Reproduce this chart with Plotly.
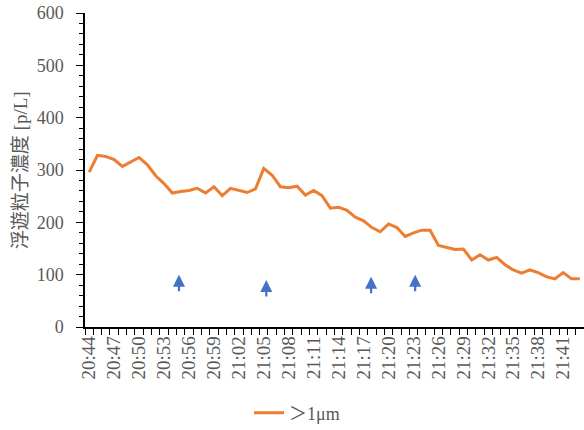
import plotly.graph_objects as go

times = []
h, m = 20, 44
for _ in range(60):
    times.append(f"{h}:{m:02d}")
    m += 1
    if m == 60:
        h, m = h + 1, 0

values = [296, 328, 326, 320, 307, 316, 324, 310, 289, 274,
          256, 259, 261, 265, 256, 268, 251, 265, 261, 257,
          264, 303, 290, 268, 266, 269, 252, 261, 251, 227,
          229, 223, 210, 203, 190, 182, 197, 190, 173, 180,
          185, 185, 156, 152, 148, 149, 128, 138, 128, 133,
          119, 109, 103, 109, 104, 96, 92, 104, 92, 92]

arrow_x = [10.8, 21.3, 33.9, 39.2]
arrow_y = [100, 90, 96, 100]

label_idx = list(range(0, 60, 3))
label_txt = [times[i] for i in label_idx]

gray = "#595959"
serif = "Liberation Serif"
font_cjk = "Liberation Serif, Noto Sans CJK JP"

fig = go.Figure()
fig.add_trace(go.Scatter(
    x=list(range(len(values))), y=values, mode="lines",
    line=dict(color="#ED7D31", width=3),
    name="＞1μm",
))

for ax_, ay_ in zip(arrow_x, arrow_y):
    fig.add_annotation(
        x=ax_, y=ay_, xref="x", yref="y", ax=0, ay=18,
        showarrow=True, arrowhead=2, arrowsize=1.1, arrowwidth=2.2,
        arrowcolor="#4472C4", text="",
    )

fig.add_annotation(
    text="浮遊粒子濃度 [p/L]", xref="paper", yref="paper",
    x=-0.13, y=0.5, xanchor="center", yanchor="middle",
    textangle=-90, showarrow=False,
    font=dict(family=font_cjk, size=19, color=gray),
)

fig.update_layout(
    width=584, height=430,
    margin=dict(l=85, r=0, t=13, b=103, autoexpand=False),
    paper_bgcolor="white", plot_bgcolor="white",
    font=dict(family=serif, size=18, color=gray),
    showlegend=True,
    legend=dict(orientation="h", xref="container", yref="container",
                x=0.5086, y=0.0395, xanchor="center", yanchor="middle",
                font=dict(family=font_cjk, size=18, color=gray)),
)

fig.update_xaxes(
    range=[-0.5, 59.5], tickmode="array", tickvals=label_idx, ticktext=label_txt,
    tickangle=-90, ticks="", showgrid=False, zeroline=False, automargin=False,
    showline=True, linecolor="black", linewidth=1.5, ticklabeloverflow="allow",
    minor=dict(tick0=0.5, dtick=1, ticks="outside", ticklen=6, tickcolor="black", tickwidth=1),
    tickfont=dict(family=serif, size=19, color=gray),
)
fig.update_yaxes(
    range=[0, 600], dtick=100, ticks="outside", ticklen=7, tickcolor="black", tickwidth=1.2,
    showgrid=False, zeroline=False, showline=True, linecolor="black", linewidth=1.5,
    automargin=False, ticklabeloverflow="allow",
    minor=dict(dtick=20, ticks="outside", ticklen=4, tickcolor="black", tickwidth=1),
    tickfont=dict(family=serif, size=18, color=gray), ticklabelstandoff=9,
)

fig.write_html(
    "out.html",
    config={"displayModeBar": False},
    post_script="document.body.style.margin='0';document.body.style.overflow='hidden';",
)
